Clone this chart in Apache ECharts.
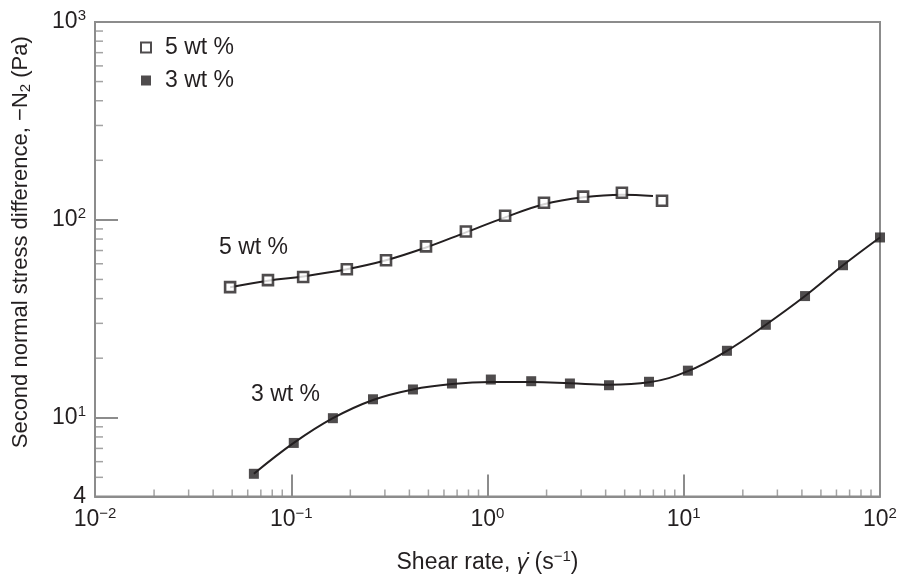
<!DOCTYPE html>
<html><head><meta charset="utf-8">
<script src="https://cdn.jsdelivr.net/npm/echarts@6/dist/echarts.min.js"></script>
<style>html,body{margin:0;padding:0;background:#fff}#c{width:901px;height:579px}</style>
</head><body><div id="c"></div>
<script>
// 5 wt % measured points
const x5 = [0.0488, 0.0761, 0.115, 0.192, 0.304, 0.486, 0.776, 1.23, 1.94, 3.07, 4.84, 7.75];
const y5 = [45.7, 49.6, 51.4, 56.3, 62.5, 73.5, 87.4, 105, 122, 131, 137, 125];
// 5 wt % fitted curve
const fit5X = [0.0488, 0.0761, 0.115, 0.192, 0.304, 0.486, 0.776, 1.23, 1.94, 3.07, 4.84, 6.97];
const fit5Y = [45.7, 49.3, 51.8, 56.3, 62.5, 72.5, 86.5, 103, 120, 130, 134, 132];
// 3 wt % measured points
const x3 = [0.0645, 0.103, 0.163, 0.261, 0.417, 0.659, 1.04, 1.67, 2.63, 4.16, 6.65, 10.5, 16.6, 26.2, 41.5, 64.8, 100];
const y3 = [5.21, 7.46, 9.95, 12.4, 13.9, 14.9, 15.6, 15.3, 14.9, 14.6, 15.2, 17.3, 21.8, 29.5, 41.2, 59.0, 81.5];
// 3 wt % fitted curve
const fit3X = [0.0645, 0.103, 0.163, 0.261, 0.417, 0.659, 1.04, 1.67, 2.63, 4.16, 6.65, 10.5, 16.6, 26.2, 41.5, 64.8, 100];
const fit3Y = [5.21, 7.46, 9.95, 12.3, 13.9, 14.8, 15.15, 15.15, 14.95, 14.7, 15.1, 17.2, 21.8, 29.5, 41.2, 59.0, 81.5];
// axis ticks
const xDecades = [0.01, 0.1, 1, 10];
const yMinorLow = [5, 6, 7, 8, 9];
const yDecades = [10, 100];
const mantissas = [2, 3, 4, 5, 6, 7, 8, 9];
const xMin = 0.01, xMax = 100, yMin = 4, yMax = 1000;

const TXT = '#231f20', AX = '#8c8c8c';
const FONT = '"Liberation Sans", Arial, sans-serif';
const FS = 23;

const xMinor = [];
xDecades.forEach(d => mantissas.forEach(m => xMinor.push([m * d, yMin])));
const yMinor = yMinorLow.map(v => [xMin, v]);
yDecades.forEach(d => mantissas.forEach(m => yMinor.push([xMin, m * d])));

function powLabel(v) {
  const e = Math.log10(v);
  const r = Math.round(e);
  if (Math.abs(e - r) < 1e-6) {
    return '{b|10}{s|' + (r < 0 ? '\u2212' + (-r) : r) + '}';
  }
  return '{b|' + Math.round(v) + '}';
}
const richLab = {
  b: { fontSize: FS, fontFamily: FONT, color: TXT },
  s: { fontSize: 15, fontFamily: FONT, color: TXT, padding: [0, 0, 12, 0] }
};

const chart = echarts.init(document.getElementById('c'));
chart.setOption({
  animation: false,
  backgroundColor: '#fff',
  grid: { left: 95, right: 21, top: 22, bottom: 79, show: true, borderColor: AX, borderWidth: 2, backgroundColor: 'transparent' },
  legend: {
    orient: 'vertical', left: 135, top: 31, itemWidth: 10, itemHeight: 10, itemGap: 10,
    textStyle: { fontSize: FS, fontFamily: FONT, color: TXT, padding: [0, 0, 0, 9] },
    data: [{ name: '5 wt %', icon: 'rect' }, { name: '3 wt %', icon: 'rect', itemStyle: { color: TXT } }]
  },
  xAxis: {
    type: 'log', logBase: 10, min: xMin, max: xMax, splitNumber: 4,
    axisLine: { lineStyle: { color: AX, width: 2 } },
    axisTick: { inside: true, length: 22, lineStyle: { color: AX, width: 2 } },
    splitLine: { show: false },
    axisLabel: { formatter: powLabel, rich: richLab, margin: 10 },
    name: 'Shear rate, {i|\u03b3\u0307} (s{s|\u22121})',
    nameLocation: 'middle', nameGap: 53,
    nameTextStyle: { fontSize: FS, fontFamily: FONT, color: TXT,
      rich: { i: { fontSize: FS, fontFamily: FONT, fontStyle: 'italic', color: TXT },
              s: { fontSize: 15, fontFamily: FONT, color: TXT, padding: [0, 0, 11, 0] } } }
  },
  yAxis: {
    type: 'log', logBase: 10, min: yMin, max: yMax, splitNumber: 3,
    axisLine: { lineStyle: { color: AX, width: 2 } },
    axisTick: { inside: true, length: 23, lineStyle: { color: AX, width: 2 } },
    splitLine: { show: false },
    axisLabel: { formatter: powLabel, rich: richLab, margin: 9 },
    name: 'Second normal stress difference, \u2212N{s|2} (Pa)',
    nameLocation: 'middle', nameGap: 62,
    nameTextStyle: { fontSize: 22, fontFamily: FONT, color: TXT, padding: [0, 0, 0, 34],
      rich: { s: { fontSize: 15, fontFamily: FONT, color: TXT, padding: [9, 0, 0, 0] } } }
  },
  series: [
    { type: 'scatter', name: 'xminor', data: xMinor, symbol: 'rect', symbolSize: [1.5, 7], symbolOffset: [0, -3.5], itemStyle: { color: AX }, silent: true, clip: false, z: 1 },
    { type: 'scatter', name: 'yminor', data: yMinor, symbol: 'rect', symbolSize: [8, 1.5], symbolOffset: [4, 0], itemStyle: { color: AX }, silent: true, clip: false, z: 1 },
    { type: 'line', name: 'fit5', data: fit5X.map((x, i) => [x, fit5Y[i]]), smooth: 0.4, showSymbol: false, symbol: 'none',
      lineStyle: { color: TXT, width: 2 }, z: 2 },
    { type: 'line', name: 'fit3', data: fit3X.map((x, i) => [x, fit3Y[i]]), smooth: 0.4, showSymbol: false, symbol: 'none',
      lineStyle: { color: TXT, width: 2 }, z: 2, clip: false },
    { type: 'scatter', name: '5 wt %', data: x5.map((x, i) => [x, y5[i]]), symbol: 'rect', symbolSize: 10,
      itemStyle: { color: '#fff', borderColor: TXT, borderWidth: 2.6 }, z: 3 },
    { type: 'scatter', name: '3 wt %', data: x3.map((x, i) => [x, y3[i]]), symbol: 'rect', symbolSize: 10,
      itemStyle: { color: TXT }, z: 3, clip: false }
  ],
  graphic: [
    { type: 'text', left: 219, top: 236, style: { text: '5 wt %', fontSize: FS, fontFamily: FONT, fill: TXT } },
    { type: 'text', left: 251, top: 383, style: { text: '3 wt %', fontSize: FS, fontFamily: FONT, fill: TXT } }
  ]
});
</script></body></html>
